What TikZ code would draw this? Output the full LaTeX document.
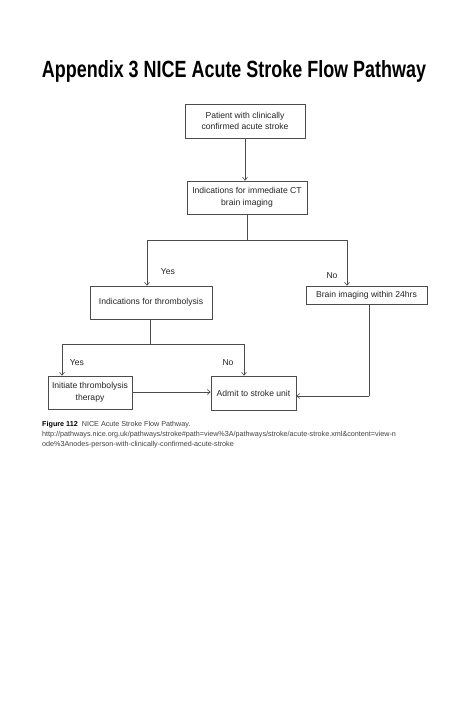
\documentclass[tikz,border=0pt]{standalone}
\usepackage{fontspec}
\setmainfont{Liberation Sans}
\usepackage{graphicx}
\usetikzlibrary{arrows.meta}
\tikzset{
  flowbox/.style={draw=black!70, line width=0.6pt, align=center, font=\fontsize{8.6}{11.5}\selectfont, text=black!85, inner sep=0pt},
  conn/.style={draw=black!70, line width=0.6pt},
  arr/.style={conn, -{Straight Barb[length=3pt,width=5pt]}},
  lbl/.style={font=\fontsize{8.6}{10}\selectfont, text=black!85, inner sep=0pt},
  captext/.style={anchor=base west, inner sep=0pt, font=\fontsize{7.2}{8}\selectfont, text=black!75}
}
\begin{document}
\begin{tikzpicture}[x=1pt,y=-1pt]
\useasboundingbox (0,0) rectangle (474,711);
\fill[white] (0,0) rectangle (474,711);
% title
\node[inner sep=0pt, anchor=base] (title) at (234,77.7) {\resizebox{384pt}{17pt}{\bfseries Appendix 3 NICE Acute Stroke Flow Pathway}};
% boxes
\node[flowbox, minimum width=120pt, minimum height=34pt] (b1) at (245,121) {Patient with clinically\\confirmed acute stroke};
\node[flowbox, minimum width=120pt, minimum height=33pt] (b2) at (247,197.5) {Indications for immediate CT\\brain imaging};
\node[flowbox, minimum width=122pt, minimum height=33pt] (b3) at (151,302.5) {Indications for thrombolysis};
\node[flowbox, minimum width=121pt, minimum height=18pt] (b4) at (366.5,295) {Brain imaging within 24hrs};
\node[flowbox, minimum width=84pt, minimum height=33pt] (b5) at (90,392.5) {Initiate thrombolysis\\therapy};
\node[flowbox, minimum width=85pt, minimum height=34pt] (b6) at (253.5,393) {Admit to stroke unit};
% junctions
\coordinate (j1) at (247,240);
\coordinate (j1l) at (147,240);
\coordinate (j1r) at (347,240);
\coordinate (j2) at (150,344);
\coordinate (j2l) at (62,344);
\coordinate (j2r) at (244,344);
\coordinate (j3) at (369,396);
% connectors
\draw[arr] (b1.south) -- (b1.south |- b2.north);
\draw[conn] (b2.south) -- (j1);
\draw[conn] (j1l) -- (j1r);
\draw[arr] (j1l) -- (j1l |- b3.north);
\draw[arr] (j1r) -- (j1r |- b4.north);
\draw[conn] (b3.south -| j2) -- (j2);
\draw[conn] (j2l) -- (j2r);
\draw[arr] (j2l) -- (j2l |- b5.north);
\draw[arr] (j2r) -- (j2r |- b6.north);
\draw[arr] (b5.east |- 0,392) -- (b6.west |- 0,392);
\draw[conn] (b4.south -| j3) -- (j3);
\draw[arr] (j3) -- (b6.east |- j3);
% labels
\node[lbl] (yes1) at (168,272) {Yes};
\node[lbl] (no1) at (332,276) {No};
\node[lbl] (yes2) at (77,363) {Yes};
\node[lbl] (no2) at (228,363) {No};
% caption
\node[captext] (c1) at (42,426) {\textbf{\color{black}Figure 112}\ \ NICE Acute Stroke Flow Pathway.};
\node[captext] (c2) at (42,436.5) {http://pathways.nice.org.uk/pathways/stroke\#path=view\%3A/pathways/stroke/acute-stroke.xml\&content=view-n};
\node[captext] (c3) at (42,446.5) {ode\%3Anodes-person-with-clinically-confirmed-acute-stroke};
\end{tikzpicture}
\end{document}
